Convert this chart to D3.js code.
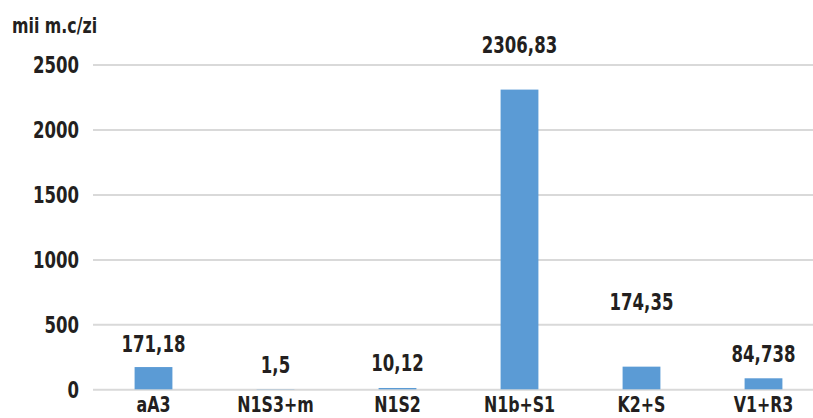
<!DOCTYPE html>
<html>
<head>
<meta charset="utf-8">
<script src="https://cdn.jsdelivr.net/npm/d3@7"></script>
<style>
  html, body { margin: 0; padding: 0; background: #fff; }
  svg text { font-family: "DejaVu Sans Condensed", "DejaVu Sans", sans-serif; font-weight: bold; fill: #231f20; }
</style>
</head>
<body>
<svg id="chart" width="813" height="418"></svg>
<script>
const categories = ["aA3", "N1S3+m", "N1S2", "N1b+S1", "K2+S", "V1+R3"];
const values = [171.18, 1.5, 10.12, 2306.83, 174.35, 84.738];
const valueLabels = ["171,18", "1,5", "10,12", "2306,83", "174,35", "84,738"];
const yTicks = [0, 500, 1000, 1500, 2000, 2500];
const unitLabel = "mii m.c/zi";

// layout (not data): vertical gap between bar top and its value label
const labelGap = [15, 16, 17, 37, 57, 16];

const W = 813, H = 418;
const SX = 0.8; // horizontal condensing of text
const svg = d3.select("#chart");

function condense(sel) {
  sel.each(function() {
    const t = d3.select(this);
    const tx = +t.attr("x") || 0, ty = +t.attr("y") || 0;
    t.attr("x", 0).attr("y", 0)
     .attr("transform", `translate(${tx},${ty}) scale(${SX},1)`);
  });
}

const x = d3.scaleBand()
  .domain(categories)
  .range([92.5, 824.5])
  .paddingInner(0.69)
  .paddingOuter(0.345);

const y = d3.scaleLinear().domain([0, 2500]).range([389.3, 64.5]);

// gridlines
const grid = d3.axisLeft(y).tickValues(yTicks).tickSize(-(W - 93)).tickFormat("");
svg.append("g")
  .attr("transform", "translate(93,0)")
  .call(grid)
  .call(g => g.select(".domain").remove())
  .call(g => g.selectAll("line").attr("stroke", "#d9d9d9").attr("stroke-width", 2));

// y tick labels
const yAxis = d3.axisLeft(y).tickValues(yTicks).tickSize(0).tickPadding(0).tickFormat(d3.format("d"));
svg.append("g")
  .attr("transform", "translate(79,0)")
  .call(yAxis)
  .call(g => g.select(".domain").remove())
  .call(g => g.selectAll("text").attr("font-size", 23).attr("dy", "0.36em").call(condense));

// bars
svg.append("g").selectAll("rect")
  .data(values)
  .join("rect")
  .attr("x", (d, i) => x(categories[i]))
  .attr("width", x.bandwidth())
  .attr("y", d => y(d))
  .attr("height", d => y(0) - y(d))
  .attr("fill", "#5b9bd5");

// value labels
svg.append("g").selectAll("text")
  .data(values)
  .join("text")
  .attr("x", (d, i) => x(categories[i]) + x.bandwidth() / 2)
  .attr("y", (d, i) => y(d) - labelGap[i])
  .attr("text-anchor", "middle")
  .attr("font-size", 23)
  .text((d, i) => valueLabels[i])
  .call(condense);

// x axis labels
const xAxis = d3.axisBottom(x).tickSize(0).tickPadding(0);
svg.append("g")
  .attr("transform", "translate(0,412)")
  .call(xAxis)
  .call(g => g.select(".domain").remove())
  .call(g => g.selectAll("text").attr("font-size", 22).attr("dy", 0).attr("y", 0).call(condense));

// unit label
svg.append("text")
  .attr("x", 12)
  .attr("y", 33)
  .attr("font-size", 22)
  .text(unitLabel)
  .call(condense);
</script>
</body>
</html>
